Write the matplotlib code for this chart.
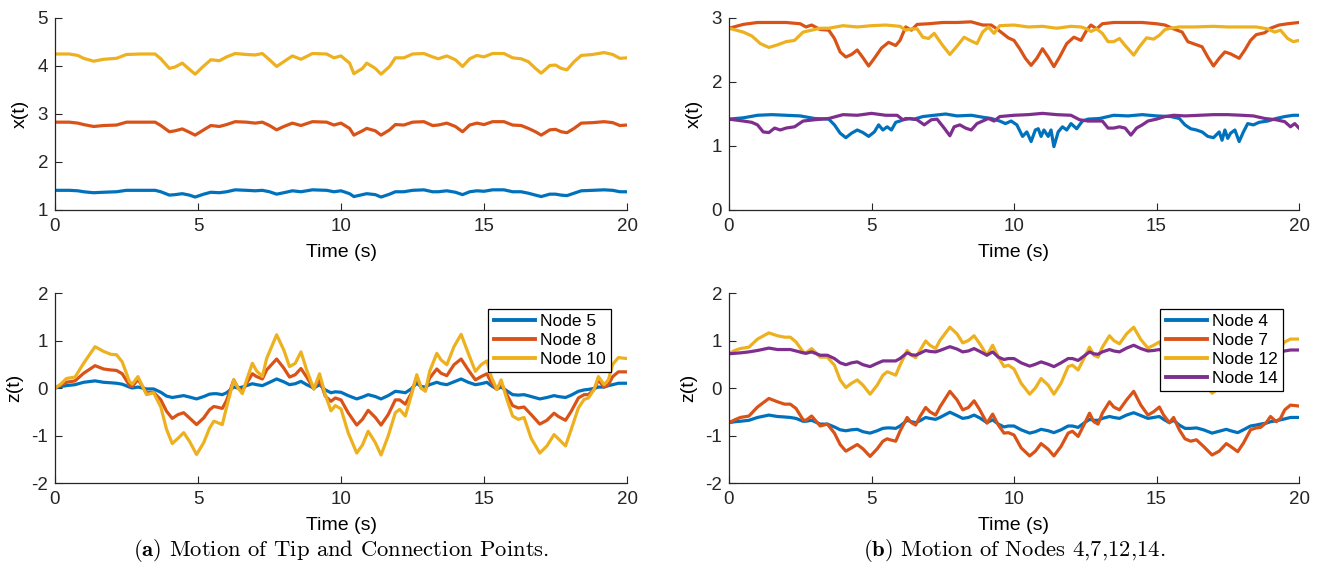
import matplotlib
matplotlib.use("Agg")
import matplotlib.pyplot as plt

plt.rcParams['font.family'] = ['Liberation Sans', 'DejaVu Sans']
plt.rcParams['axes.unicode_minus'] = False
plt.rcParams['mathtext.fontset'] = 'cm'

# colores tipo MATLAB
c_azul = '#0072BD'
c_naranja = '#D95319'
c_amarillo = '#EDB120'
c_morado = '#7E2F8E'
c_ejes = '#262626'

# ---------- (a) x(t): nodos 5, 8, 10 ----------
t_xa = [0, 0.5, 0.8, 1.0, 1.35, 1.7, 2.15, 2.5, 3.0, 3.5, 3.7, 4.0, 4.2, 4.45, 4.7,
        4.9, 5.2, 5.45, 5.75, 6.0, 6.3, 6.7, 7.0, 7.25, 7.5, 7.75, 8.0, 8.3, 8.6, 9.0,
        9.5, 9.75, 10.0, 10.3, 10.45, 10.75, 10.9, 11.2, 11.4, 11.7, 11.9, 12.2, 12.5,
        12.9, 13.2, 13.4, 13.7, 14.0, 14.25, 14.5, 14.75, 15.0, 15.3, 15.7, 16.0, 16.3,
        16.55, 16.8, 17.0, 17.3, 17.5, 17.7, 17.9, 18.15, 18.4, 18.8, 19.2, 19.5, 19.75, 20.0]
x_nodo5 = [1.41, 1.41, 1.40, 1.38, 1.36, 1.37, 1.38, 1.41, 1.41, 1.41, 1.38, 1.31, 1.32, 1.34,
           1.31, 1.27, 1.33, 1.37, 1.36, 1.38, 1.42, 1.41, 1.40, 1.41, 1.38, 1.33, 1.36, 1.40,
           1.38, 1.42, 1.41, 1.38, 1.40, 1.34, 1.28, 1.32, 1.34, 1.32, 1.27, 1.33, 1.38, 1.38,
           1.41, 1.42, 1.38, 1.38, 1.40, 1.37, 1.32, 1.38, 1.40, 1.39, 1.42, 1.42, 1.38, 1.38,
           1.35, 1.31, 1.28, 1.33, 1.33, 1.31, 1.30, 1.35, 1.40, 1.41, 1.42, 1.41, 1.38, 1.38]
x_nodo8 = [2.83, 2.83, 2.81, 2.78, 2.74, 2.76, 2.77, 2.83, 2.83, 2.83, 2.76, 2.63, 2.65, 2.69,
           2.62, 2.56, 2.67, 2.76, 2.74, 2.78, 2.84, 2.83, 2.81, 2.83, 2.76, 2.67, 2.74, 2.81,
           2.76, 2.84, 2.83, 2.77, 2.81, 2.70, 2.56, 2.65, 2.70, 2.65, 2.56, 2.67, 2.78, 2.77,
           2.83, 2.84, 2.76, 2.77, 2.81, 2.74, 2.63, 2.77, 2.81, 2.78, 2.84, 2.84, 2.77, 2.76,
           2.70, 2.63, 2.56, 2.67, 2.68, 2.63, 2.61, 2.70, 2.81, 2.82, 2.84, 2.82, 2.76, 2.77]
x_nodo10 = [4.25, 4.25, 4.22, 4.16, 4.10, 4.14, 4.16, 4.24, 4.25, 4.25, 4.15, 3.95, 3.98, 4.06,
            3.93, 3.83, 4.00, 4.13, 4.11, 4.19, 4.26, 4.24, 4.23, 4.26, 4.13, 3.99, 4.09, 4.21,
            4.14, 4.26, 4.25, 4.17, 4.21, 4.06, 3.84, 3.95, 4.06, 3.95, 3.83, 3.99, 4.17, 4.17,
            4.25, 4.26, 4.19, 4.15, 4.21, 4.13, 3.99, 4.15, 4.22, 4.19, 4.26, 4.26, 4.17, 4.15,
            4.09, 3.95, 3.85, 4.01, 4.02, 3.95, 3.92, 4.09, 4.22, 4.24, 4.28, 4.24, 4.16, 4.17]

# ---------- (b) x(t): nodos 4, 7, 12, 14 ----------
t_x4 = [0, 0.5, 1.0, 1.5, 2.0, 2.5, 3.0, 3.5, 3.7, 3.9, 4.1, 4.3, 4.5, 4.7, 4.9, 5.1, 5.25,
        5.4, 5.55, 5.7, 5.85, 6.0, 6.2, 6.5, 6.8, 7.2, 7.6, 8.0, 8.5, 8.9, 9.2, 9.5, 9.7,
        9.9, 10.1, 10.3, 10.45, 10.6, 10.75, 10.85, 10.95, 11.05, 11.2, 11.3, 11.4, 11.55,
        11.7, 11.85, 12.0, 12.2, 12.4, 12.6, 13.0, 13.5, 14.0, 14.5, 15.0, 15.5, 15.8, 16.0,
        16.2, 16.4, 16.6, 16.8, 17.0, 17.2, 17.3, 17.4, 17.5, 17.6, 17.75, 17.9, 18.05,
        18.2, 18.4, 18.6, 18.9, 19.2, 19.5, 19.8, 20.0]
x_nodo4 = [1.42, 1.44, 1.48, 1.49, 1.48, 1.47, 1.43, 1.42, 1.33, 1.20, 1.13, 1.20, 1.25, 1.21,
           1.15, 1.22, 1.33, 1.25, 1.30, 1.25, 1.37, 1.39, 1.43, 1.42, 1.46, 1.48, 1.50, 1.47,
           1.48, 1.45, 1.43, 1.39, 1.35, 1.39, 1.33, 1.15, 1.22, 1.07, 1.25, 1.27, 1.15, 1.25,
           1.15, 1.25, 0.99, 1.22, 1.30, 1.25, 1.35, 1.27, 1.39, 1.42, 1.43, 1.48, 1.47, 1.49,
           1.47, 1.46, 1.43, 1.33, 1.27, 1.25, 1.22, 1.15, 1.13, 1.22, 1.09, 1.25, 1.12, 1.20,
           1.25, 1.07, 1.22, 1.35, 1.33, 1.37, 1.39, 1.43, 1.46, 1.48, 1.48]

t_x7 = [0, 0.5, 1.0, 1.5, 2.0, 2.5, 2.7, 2.9, 3.2, 3.5, 3.7, 3.9, 4.1, 4.3, 4.5, 4.7, 4.9,
        5.1, 5.35, 5.6, 5.85, 6.0, 6.2, 6.4, 6.6, 7.0, 7.5, 8.0, 8.5, 8.9, 9.2, 9.4, 9.6,
        9.8, 10.0, 10.2, 10.4, 10.6, 10.8, 11.0, 11.2, 11.4, 11.6, 11.85, 12.1, 12.35, 12.55,
        12.7, 12.9, 13.1, 13.5, 14.0, 14.5, 15.0, 15.3, 15.6, 15.9, 16.1, 16.35, 16.6, 16.8,
        17.0, 17.2, 17.4, 17.6, 17.9, 18.1, 18.3, 18.5, 18.8, 19.0, 19.3, 19.6, 20.0]
x_nodo7 = [2.84, 2.90, 2.93, 2.93, 2.93, 2.91, 2.86, 2.89, 2.82, 2.81, 2.68, 2.47, 2.39, 2.43,
           2.50, 2.38, 2.25, 2.37, 2.53, 2.62, 2.57, 2.65, 2.86, 2.81, 2.90, 2.91, 2.93, 2.93,
           2.94, 2.89, 2.89, 2.83, 2.76, 2.69, 2.65, 2.52, 2.37, 2.26, 2.37, 2.52, 2.39, 2.24,
           2.39, 2.60, 2.70, 2.65, 2.81, 2.89, 2.83, 2.91, 2.93, 2.93, 2.93, 2.91, 2.89, 2.83,
           2.78, 2.63, 2.59, 2.55, 2.39, 2.25, 2.37, 2.47, 2.44, 2.37, 2.50, 2.65, 2.74, 2.77,
           2.84, 2.89, 2.91, 2.93]

t_x12 = [0, 0.5, 0.8, 1.1, 1.4, 1.7, 2.0, 2.3, 2.6, 2.9, 3.2, 3.5, 4.0, 4.5, 5.0, 5.5, 6.0,
         6.2, 6.4, 6.6, 6.8, 7.0, 7.2, 7.5, 7.75, 8.0, 8.25, 8.5, 8.7, 8.9, 9.1, 9.3, 9.5,
         10.0, 10.5, 11.0, 11.5, 12.0, 12.35, 12.55, 12.7, 12.9, 13.1, 13.3, 13.5, 13.7,
         13.9, 14.2, 14.4, 14.65, 14.9, 15.1, 15.3, 15.5, 15.8, 16.3, 17.0, 17.5, 18.0, 18.5,
         18.9, 19.15, 19.35, 19.6, 19.8, 20.0]
x_nodo12 = [2.84, 2.78, 2.72, 2.60, 2.54, 2.58, 2.63, 2.65, 2.78, 2.81, 2.84, 2.84, 2.88, 2.86,
            2.88, 2.89, 2.87, 2.81, 2.83, 2.83, 2.70, 2.68, 2.76, 2.57, 2.43, 2.56, 2.70, 2.64,
            2.60, 2.78, 2.86, 2.76, 2.88, 2.89, 2.86, 2.87, 2.84, 2.87, 2.86, 2.83, 2.79, 2.83,
            2.76, 2.63, 2.63, 2.68, 2.57, 2.42, 2.55, 2.69, 2.67, 2.73, 2.82, 2.84, 2.86, 2.86,
            2.87, 2.86, 2.86, 2.86, 2.83, 2.78, 2.81, 2.68, 2.63, 2.65]

t_x14 = [0, 0.5, 0.8, 1.0, 1.2, 1.4, 1.6, 1.8, 2.0, 2.3, 2.6, 3.0, 3.5, 4.0, 4.5, 5.0, 5.5,
         5.9, 6.1, 6.35, 6.6, 6.85, 7.1, 7.3, 7.55, 7.75, 7.9, 8.1, 8.3, 8.5, 8.7, 8.9, 9.1,
         9.3, 9.5, 10.0, 10.5, 11.0, 11.5, 12.0, 12.3, 12.6, 12.9, 13.1, 13.3, 13.5, 13.7,
         13.9, 14.1, 14.3, 14.5, 14.7, 15.0, 15.3, 15.6, 16.0, 16.5, 17.0, 17.5, 18.0, 18.4,
         18.8, 19.2, 19.5, 19.7, 19.85, 20.0]
x_nodo14 = [1.42, 1.39, 1.37, 1.33, 1.22, 1.21, 1.28, 1.25, 1.28, 1.30, 1.39, 1.41, 1.43, 1.49,
            1.48, 1.51, 1.48, 1.48, 1.41, 1.43, 1.41, 1.33, 1.41, 1.42, 1.28, 1.16, 1.30, 1.33,
            1.28, 1.25, 1.35, 1.39, 1.43, 1.39, 1.46, 1.48, 1.49, 1.51, 1.49, 1.48, 1.41, 1.39,
            1.39, 1.39, 1.28, 1.28, 1.30, 1.28, 1.17, 1.28, 1.33, 1.39, 1.42, 1.46, 1.48, 1.47,
            1.48, 1.49, 1.49, 1.48, 1.47, 1.43, 1.41, 1.38, 1.30, 1.35, 1.28]

# ---------- z(t): mismo vector de tiempo para (a) y (b) ----------
t_z = [0, 0.2, 0.4, 0.7, 1.0, 1.4, 1.7, 1.95, 2.15, 2.35, 2.6, 2.7, 2.9, 3.2, 3.45, 3.7,
       3.9, 4.1, 4.3, 4.5, 4.7, 4.95, 5.2, 5.4, 5.55, 5.65, 5.85, 6.0, 6.25, 6.4, 6.55, 6.7,
       6.9, 7.05, 7.25, 7.4, 7.75, 8.0, 8.2, 8.4, 8.6, 8.8, 9.05, 9.25, 9.45, 9.65, 9.8,
       10.0, 10.25, 10.55, 10.75, 10.95, 11.2, 11.4, 11.65, 11.9, 12.05, 12.25, 12.45,
       12.65, 12.8, 12.95, 13.1, 13.35, 13.5, 13.7, 13.95, 14.2, 14.45, 14.7, 14.9, 15.1,
       15.25, 15.45, 15.6, 15.8, 16.0, 16.2, 16.4, 16.65, 16.95, 17.2, 17.45, 17.6, 17.85,
       18.05, 18.3, 18.5, 18.65, 18.85, 19.0, 19.2, 19.35, 19.5, 19.7, 20.0]

z_nodo5 = [0, 0.03, 0.05, 0.07, 0.12, 0.15, 0.12, 0.11, 0.10, 0.08, 0.02, 0.00, 0.02, -0.02,
           -0.02, -0.09, -0.17, -0.20, -0.18, -0.16, -0.19, -0.23, -0.18, -0.13, -0.12, -0.12,
           -0.14, -0.10, 0.02, 0.00, 0.02, 0.05, 0.09, 0.07, 0.05, 0.09, 0.19, 0.13, 0.07, 0.09,
           0.14, 0.07, 0.00, 0.07, -0.04, -0.10, -0.08, -0.09, -0.16, -0.23, -0.19, -0.14,
           -0.18, -0.23, -0.16, -0.07, -0.08, -0.10, -0.02, 0.10, 0.03, 0.02, 0.07, 0.12, 0.09,
           0.07, 0.13, 0.19, 0.12, 0.07, 0.09, 0.12, 0.05, -0.02, 0.02, -0.06, -0.14, -0.15,
           -0.14, -0.18, -0.23, -0.20, -0.16, -0.18, -0.20, -0.15, -0.07, -0.04, -0.03, -0.01,
           0.02, 0.02, 0.05, 0.07, 0.10, 0.10]
z_nodo8 = [0, 0.06, 0.12, 0.15, 0.31, 0.47, 0.40, 0.38, 0.37, 0.30, 0.06, 0.03, 0.18, -0.10,
           -0.09, -0.25, -0.49, -0.64, -0.56, -0.52, -0.63, -0.77, -0.63, -0.46, -0.39, -0.40,
           -0.43, -0.26, 0.17, 0.00, -0.07, 0.10, 0.30, 0.24, 0.19, 0.38, 0.61, 0.42, 0.23,
           0.28, 0.41, 0.23, -0.02, 0.19, -0.17, -0.28, -0.21, -0.25, -0.52, -0.78, -0.66,
           -0.47, -0.62, -0.78, -0.56, -0.25, -0.25, -0.34, -0.12, 0.24, 0.00, -0.04, 0.21,
           0.40, 0.31, 0.26, 0.49, 0.61, 0.38, 0.17, 0.24, 0.30, 0.12, -0.03, 0.10, -0.14,
           -0.37, -0.42, -0.40, -0.56, -0.76, -0.68, -0.53, -0.60, -0.68, -0.49, -0.21, -0.14,
           -0.14, -0.03, 0.17, 0.02, 0.07, 0.24, 0.34, 0.34]
z_nodo10 = [0, 0.08, 0.20, 0.23, 0.52, 0.87, 0.77, 0.71, 0.70, 0.55, 0.14, 0.08, 0.24, -0.14,
            -0.10, -0.40, -0.87, -1.17, -1.06, -0.94, -1.12, -1.40, -1.15, -0.85, -0.70, -0.72,
            -0.77, -0.40, 0.17, 0.00, -0.12, 0.17, 0.52, 0.36, 0.24, 0.62, 1.12, 0.80, 0.45,
            0.52, 0.76, 0.38, -0.02, 0.30, -0.14, -0.48, -0.37, -0.44, -0.94, -1.37, -1.20,
            -0.91, -1.15, -1.41, -1.01, -0.52, -0.45, -0.59, -0.17, 0.28, 0.00, -0.07, 0.35,
            0.73, 0.59, 0.49, 0.87, 1.13, 0.73, 0.35, 0.49, 0.57, 0.24, -0.03, 0.17, -0.24,
            -0.59, -0.66, -0.62, -1.06, -1.37, -1.22, -0.98, -1.07, -1.22, -0.87, -0.42, -0.24,
            -0.21, -0.03, 0.24, 0.07, 0.17, 0.50, 0.64, 0.62]

z_nodo4 = [-0.73, -0.71, -0.70, -0.68, -0.62, -0.57, -0.60, -0.61, -0.62, -0.64, -0.70, -0.70,
           -0.68, -0.76, -0.76, -0.82, -0.88, -0.90, -0.88, -0.87, -0.92, -0.95, -0.90, -0.85,
           -0.84, -0.84, -0.85, -0.80, -0.68, -0.71, -0.73, -0.69, -0.62, -0.64, -0.66, -0.62,
           -0.51, -0.58, -0.64, -0.62, -0.57, -0.63, -0.73, -0.67, -0.76, -0.82, -0.80, -0.80,
           -0.88, -0.95, -0.92, -0.87, -0.90, -0.94, -0.88, -0.80, -0.80, -0.83, -0.74, -0.66,
           -0.68, -0.68, -0.64, -0.60, -0.62, -0.64, -0.57, -0.52, -0.58, -0.64, -0.62, -0.60,
           -0.66, -0.73, -0.68, -0.78, -0.85, -0.85, -0.84, -0.88, -0.95, -0.91, -0.87, -0.90,
           -0.94, -0.88, -0.80, -0.78, -0.76, -0.74, -0.71, -0.69, -0.67, -0.65, -0.62, -0.62]
z_nodo7 = [-0.73, -0.67, -0.62, -0.59, -0.40, -0.22, -0.29, -0.34, -0.34, -0.43, -0.67, -0.68,
           -0.59, -0.80, -0.76, -0.95, -1.19, -1.33, -1.26, -1.19, -1.28, -1.44, -1.28, -1.12,
           -1.07, -1.09, -1.12, -0.91, -0.62, -0.73, -0.78, -0.60, -0.41, -0.50, -0.57, -0.40,
           -0.07, -0.25, -0.46, -0.41, -0.27, -0.46, -0.74, -0.55, -0.78, -0.95, -0.94, -0.99,
           -1.26, -1.43, -1.33, -1.17, -1.29, -1.43, -1.23, -0.95, -0.91, -1.02, -0.78, -0.53,
           -0.71, -0.76, -0.53, -0.29, -0.40, -0.46, -0.25, -0.07, -0.36, -0.57, -0.50, -0.40,
           -0.57, -0.73, -0.62, -0.88, -1.07, -1.12, -1.09, -1.23, -1.41, -1.33, -1.17, -1.23,
           -1.34, -1.16, -0.88, -0.84, -0.83, -0.73, -0.60, -0.71, -0.64, -0.46, -0.36, -0.38]
z_nodo12 = [0.72, 0.79, 0.83, 0.86, 1.03, 1.16, 1.10, 1.07, 1.07, 0.97, 0.76, 0.74, 0.83, 0.65,
            0.65, 0.48, 0.17, 0.01, 0.10, 0.17, 0.06, -0.13, 0.06, 0.27, 0.34, 0.32, 0.27, 0.48,
            0.79, 0.69, 0.64, 0.79, 0.99, 0.90, 0.83, 1.00, 1.28, 1.14, 0.95, 1.00, 1.10, 0.93,
            0.69, 0.90, 0.65, 0.45, 0.48, 0.40, 0.10, -0.13, 0.00, 0.20, 0.06, -0.13, 0.10, 0.45,
            0.48, 0.38, 0.62, 0.86, 0.69, 0.65, 0.86, 1.10, 1.00, 0.93, 1.14, 1.28, 1.02, 0.84,
            0.90, 0.97, 0.79, 0.65, 0.79, 0.55, 0.38, 0.31, 0.34, 0.13, -0.11, 0.00, 0.20, 0.13,
            0.00, 0.20, 0.48, 0.65, 0.69, 0.79, 0.93, 0.76, 0.86, 0.97, 1.03, 1.03]
z_nodo14 = [0.72, 0.73, 0.74, 0.76, 0.79, 0.84, 0.81, 0.81, 0.81, 0.78, 0.74, 0.73, 0.76, 0.69,
            0.69, 0.62, 0.53, 0.49, 0.53, 0.55, 0.49, 0.45, 0.52, 0.57, 0.57, 0.57, 0.57, 0.62,
            0.74, 0.70, 0.69, 0.73, 0.79, 0.77, 0.76, 0.79, 0.87, 0.82, 0.76, 0.78, 0.83, 0.77,
            0.69, 0.76, 0.65, 0.60, 0.62, 0.62, 0.53, 0.46, 0.50, 0.55, 0.50, 0.45, 0.53, 0.62,
            0.62, 0.58, 0.67, 0.76, 0.72, 0.71, 0.76, 0.81, 0.78, 0.76, 0.84, 0.90, 0.83, 0.78,
            0.79, 0.81, 0.76, 0.69, 0.72, 0.66, 0.62, 0.60, 0.60, 0.52, 0.45, 0.48, 0.53, 0.50,
            0.47, 0.52, 0.60, 0.65, 0.66, 0.70, 0.72, 0.74, 0.76, 0.78, 0.80, 0.80]


def estilo(ax, ylim, yticks, ylabel):
    ax.set_xlim(0, 20)
    ax.set_ylim(*ylim)
    ax.set_xticks([0, 5, 10, 15, 20])
    ax.set_yticks(yticks)
    ax.spines['top'].set_visible(False)
    ax.spines['right'].set_visible(False)
    for s in ['left', 'bottom']:
        ax.spines[s].set_color(c_ejes)
        ax.spines[s].set_linewidth(0.9)
    ax.tick_params(direction='in', length=5, width=0.8, colors=c_ejes, labelsize=13.5)
    ax.tick_params(axis='x', pad=6)
    ax.tick_params(axis='y', pad=5)
    ax.set_xlabel('Time (s)', fontsize=14, color='black', labelpad=6)
    ax.set_ylabel(ylabel, fontsize=14, color='black', labelpad=6)


fig = plt.figure(figsize=(13.2, 5.78), dpi=100)
x0a, x1a = 55 / 1320, 627 / 1320
x0b, x1b = 729 / 1320, 1299 / 1320
y_sup = (1 - 210 / 578, 192 / 578)
y_inf = (1 - 483 / 578, 190 / 578)

ax1 = fig.add_axes([x0a, y_sup[0], x1a - x0a, y_sup[1]])
ax2 = fig.add_axes([x0b, y_sup[0], x1b - x0b, y_sup[1]])
ax3 = fig.add_axes([x0a, y_inf[0], x1a - x0a, y_inf[1]])
ax4 = fig.add_axes([x0b, y_inf[0], x1b - x0b, y_inf[1]])

lw = 2.3

ax1.plot(t_xa, x_nodo5, color=c_azul, lw=lw)
ax1.plot(t_xa, x_nodo8, color=c_naranja, lw=lw)
ax1.plot(t_xa, x_nodo10, color=c_amarillo, lw=lw)
estilo(ax1, (1, 5), [1, 2, 3, 4, 5], 'x(t)')

ax2.plot(t_x4, x_nodo4, color=c_azul, lw=lw)
ax2.plot(t_x7, x_nodo7, color=c_naranja, lw=lw)
ax2.plot(t_x12, x_nodo12, color=c_amarillo, lw=lw)
ax2.plot(t_x14, x_nodo14, color=c_morado, lw=lw)
estilo(ax2, (0, 3), [0, 1, 2, 3], 'x(t)')

ax3.plot(t_z, z_nodo5, color=c_azul, lw=lw, label='Node 5')
ax3.plot(t_z, z_nodo8, color=c_naranja, lw=lw, label='Node 8')
ax3.plot(t_z, z_nodo10, color=c_amarillo, lw=lw, label='Node 10')
estilo(ax3, (-2, 2), [-2, -1, 0, 1, 2], 'z(t)')

ax4.plot(t_z, z_nodo4, color=c_azul, lw=lw, label='Node 4')
ax4.plot(t_z, z_nodo7, color=c_naranja, lw=lw, label='Node 7')
ax4.plot(t_z, z_nodo12, color=c_amarillo, lw=lw, label='Node 12')
ax4.plot(t_z, z_nodo14, color=c_morado, lw=lw, label='Node 14')
estilo(ax4, (-2, 2), [-2, -1, 0, 1, 2], 'z(t)')

for ax in (ax3, ax4):
    leg = ax.legend(loc='upper right', fontsize=12.5, frameon=True, fancybox=False,
                    framealpha=1, edgecolor='black', borderaxespad=0.9,
                    labelspacing=0.22, handlelength=2.4, handletextpad=0.3,
                    borderpad=0.3)
    leg.get_frame().set_linewidth(0.9)
    for h in leg.get_lines():
        h.set_linewidth(2.8)

# leyendas de las subfiguras
fig.text((x0a + x1a) / 2, 1 - 551 / 578,
         r'$\mathbf{(a)}$ Motion of Tip and Connection Points.',
         ha='center', va='center', fontsize=16.3, family='cmr10')
fig.text((x0b + x1b) / 2, 1 - 551 / 578,
         r'$\mathbf{(b)}$ Motion of Nodes 4,7,12,14.',
         ha='center', va='center', fontsize=16.3, family='cmr10')

fig.savefig('out.png', dpi=100)
